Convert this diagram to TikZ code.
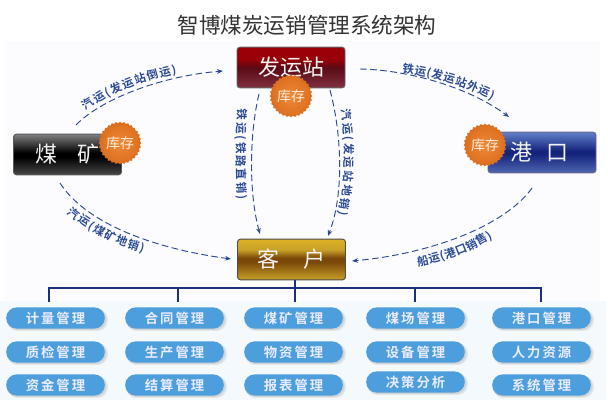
\documentclass[tikz,border=0pt]{standalone}
\usepackage{fontspec}
\setmainfont{Noto Sans CJK SC}
\newfontfamily\cjkb{Noto Sans CJK SC Bold}
\newfontfamily\cjkp[LetterSpace=15]{Noto Sans CJK SC Bold}
\usetikzlibrary{shapes.geometric,decorations.text,arrows.meta,calc}
\definecolor{flowblue}{HTML}{2B4A92}
\definecolor{treeblue}{HTML}{1B2F7C}
\definecolor{pillblue}{HTML}{4C9EDC}
\definecolor{burstin}{HTML}{EE8A38}
\definecolor{burstout}{HTML}{DC6E1E}
\pgfdeclareverticalshading{glossmine}{100bp}{color(0bp)=(black!72);color(25bp)=(black!72);color(47bp)=(black);color(52bp)=(black);color(75bp)=(black!50);color(100bp)=(black!50)}
\definecolor{st1}{HTML}{803040}\definecolor{st2}{HTML}{5A0A14}\definecolor{st3}{HTML}{9A0008}
\pgfdeclareverticalshading{glossstation}{100bp}{color(0bp)=(st1);color(25bp)=(st1);color(50bp)=(st2);color(60bp)=(st3);color(75bp)=(st3);color(100bp)=(st3)}
\definecolor{po1}{HTML}{4F66B0}\definecolor{po2}{HTML}{14247C}\definecolor{po3}{HTML}{6080C8}
\pgfdeclareverticalshading{glossport}{100bp}{color(0bp)=(po1);color(25bp)=(po1);color(48bp)=(po2);color(52bp)=(po2);color(75bp)=(po3);color(100bp)=(po3)}
\definecolor{cu1}{HTML}{C8A028}\definecolor{cu2}{HTML}{7A4808}\definecolor{cu3}{HTML}{DDB224}
\pgfdeclareverticalshading{glosscust}{100bp}{color(0bp)=(cu1);color(25bp)=(cu1);color(47bp)=(cu2);color(52bp)=(cu2);color(62bp)=(cu1);color(75bp)=(cu3);color(100bp)=(cu3)}
\tikzset{
 x=0.75pt,y=-0.75pt,
 mainbox/.style={draw=#1,line width=0.7pt,rounded corners=2.2pt,minimum width=81pt,minimum height=30.5pt,inner sep=0pt,text=white!95!black,font=\fontsize{16.5}{17}\selectfont},
 minebox/.style={mainbox=black!65,shading=glossmine},
 stationbox/.style={mainbox=black!60,shading=glossstation},
 portbox/.style={mainbox=blue!30!black!60,shading=glossport},
 custbox/.style={mainbox=black!70,shading=glosscust},
 burst/.style={star,star points=32,star point ratio=1.08,minimum size=30.5pt,inner sep=0pt,
   inner color=burstin,outer color=burstout,text=white!85!orange,font=\fontsize{10.5}{11}\selectfont},
 pill/.style={rounded corners=8pt,fill=pillblue,minimum width=74pt,minimum height=16pt,inner sep=0pt,text=white!92!blue,font=\cjkp\fontsize{10}{11}\selectfont},
 flow/.style={draw=flowblue,line width=0.7pt,dash pattern=on 5pt off 2.6pt,-{Stealth[length=4.5pt,width=3.5pt]}},
 tree/.style={draw=treeblue,line width=1.5pt},
 flowtext/.style={decorate,decoration={text along path,text align=fit to path,text={|\cjkb\fontsize{8.6}{9}\selectfont\color{flowblue}|#1}}},
}
\newcommand{\pillat}[4]{%
 \fill[black!30,opacity=.25,rounded corners=8pt] (#1+1,#2-9) rectangle (#1+102,#2+13);
 \fill[black!30,opacity=.35,rounded corners=8pt] (#1+1,#2-9.5) rectangle (#1+100.5,#2+12);
 \node[pill] (#3) at (#1+49.5,#2) {#4};}
\begin{document}
\begin{tikzpicture}
\useasboundingbox (0,0) rectangle (608,406);
\fill[white] (0,0) rectangle (608,406);
\fill[blue!1!white] (4,41) rectangle (600,301);
\definecolor{panelblue}{HTML}{F3F9FD}
\fill[panelblue] (0,301) rectangle (606,400);
\node[font=\fontsize{16.2}{17}\selectfont,text=black!80] (title) at (307,25) {智博煤炭运销管理系统架构};
% main boxes
\node[minebox] (mine) at (67.5,154.5) {煤\hspace{.95em}矿};
\node[stationbox] (station) at (291,67.5) {发运站};
\node[portbox] (port) at (542,152.5) {\hspace{-.2em}港\hspace{.62em}口};
\node[custbox] (cust) at (291.5,259.5) {客\hspace{1.05em}户};
% tree
\coordinate (hl) at (49,288); \coordinate (hr) at (541,288);
\coordinate (d1) at (49,302); \coordinate (d2) at (178,302); \coordinate (d3) at (295,302);
\coordinate (d4) at (415,302); \coordinate (d5) at (541,302);
\draw[tree] (d1) -- (hl) -- (hr) -- (d5);
\draw[tree] (178,288) -- (d2);
\draw[tree] (415,288) -- (d4);
\draw[draw=treeblue,line width=0.9pt] (cust.south -| d3) -- (d3);
% flows
\coordinate (a1) at (76,125); \coordinate (a2) at (223,71);
\coordinate (b1) at (360,69); \coordinate (b2) at (509,117);
\coordinate (c1) at (532,188); \coordinate (c2) at (352,261);
\coordinate (e1) at (60,183); \coordinate (e2) at (231,259);
\coordinate (f1) at (259,94); \coordinate (f2) at (260,234);
\coordinate (g1) at (330,90); \coordinate (g2) at (328,236);
\draw[flow] (a1) .. controls (100,100) and (160,76) .. (a2);
\draw[flow] (b1) .. controls (410,70) and (470,88) .. (b2);
\draw[flow] (c1) .. controls (505,226) and (430,254) .. (c2);
\draw[flow] (e1) .. controls (85,222) and (150,248) .. (e2);
\draw[flow] (f1) .. controls (249,135) and (249,195) .. (f2);
\draw[flow] (g1) .. controls (342,135) and (344,195) .. (g2);
% flow labels
\path[flowtext={汽运(发运站倒运)}] (86,111) .. controls (110,92) and (145,80) .. (177,74);
\path[flowtext={铁运(发运站外运)}] (402,73) .. controls (430,76) and (465,86) .. (492,100);
\path[flowtext={船运(港口销售)}] (418,266) .. controls (445,261) and (470,252) .. (493,238);
\path[flowtext={汽运(煤矿地销)}] (67,213) .. controls (90,232) and (115,245) .. (143,253);
\path[flowtext={铁运(铁路直销)}] (238,109) .. controls (236,135) and (236,175) .. (238,200);
\path[flowtext={汽运(发运站地销)}] (341,110) .. controls (346,140) and (346,185) .. (338,215);
% bursts
\node[burst] (b-mine) at (120,143) {库存};
\node[burst] (b-station) at (291,96) {库存};
\node[burst] (b-port) at (485,145) {库存};
% pills
\pillat{6}{318}{p11}{计量管理}
\pillat{125}{318}{p12}{合同管理}
\pillat{244}{318}{p13}{煤矿管理}
\pillat{366}{318}{p14}{煤场管理}
\pillat{492}{318}{p15}{港口管理}
\pillat{6}{352}{p21}{质检管理}
\pillat{125}{352}{p22}{生产管理}
\pillat{244}{352}{p23}{物资管理}
\pillat{366}{352}{p24}{设备管理}
\pillat{492}{352}{p25}{人力资源}
\pillat{6}{385}{p31}{资金管理}
\pillat{125}{385}{p32}{结算管理}
\pillat{244}{385}{p33}{报表管理}
\pillat{366}{382}{p34}{决策分析}
\pillat{492}{385}{p35}{系统管理}
\end{tikzpicture}
\end{document}
